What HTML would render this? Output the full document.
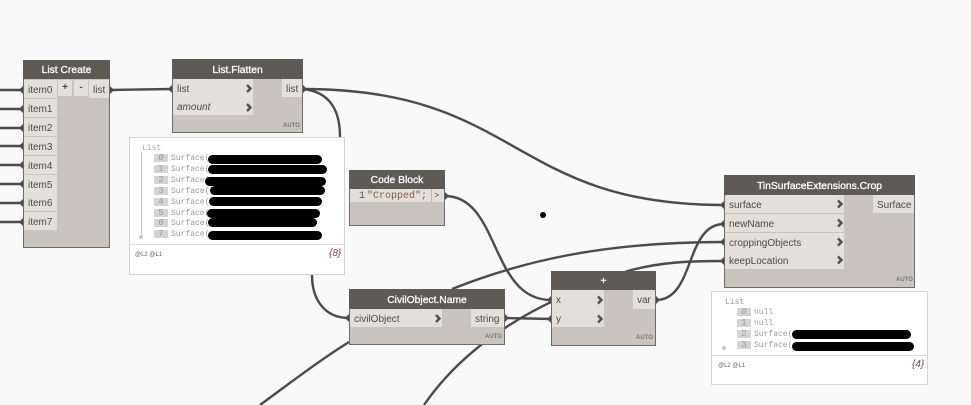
<!DOCTYPE html>
<html><head><meta charset="utf-8"><style>
html,body{margin:0;padding:0;background:#f9f9f9;width:971px;height:405px;overflow:hidden}
body{position:relative;font-family:"Liberation Sans",sans-serif}
svg{position:absolute;left:0;top:0}
.n{position:absolute;box-sizing:border-box;background:#c9c5be;border:1px solid #6f6c67}
.h{position:absolute;box-sizing:border-box;background:#5e5b57;color:#fff;font-weight:normal;font-size:10.3px;-webkit-text-stroke:.3px #fff;text-align:center}
.p{position:absolute;box-sizing:border-box;background:#e3e0da;color:#4a4a4a;font-size:10px;line-height:22px;padding-left:4px;white-space:nowrap}
.a{position:absolute;font-size:6px;font-weight:bold;color:#7a7873;line-height:8px}
.v{position:absolute;box-sizing:border-box;background:#fff;border:1px solid #d4d4d4}
.t{position:absolute;font-family:"Liberation Mono",monospace;font-size:8px;line-height:17px;color:#9a9a9a;white-space:nowrap}
.i{position:absolute;background:#d4d4d4;color:#9a9a9a;font-family:"Liberation Mono",monospace;font-size:9px;line-height:8px;height:8px;width:14px;text-align:center}
.b{position:absolute;background:#000;height:9px;border-radius:5px}
.l{position:absolute;font-size:6px;line-height:10px;color:#666}
.c{position:absolute;font-size:10px;line-height:13px;font-style:italic;color:#7a4a4a}
</style></head><body>
<svg width="971" height="405" fill="none" stroke="#4b4b4b" stroke-width="2.4">
<path d="M0 90H23M0 109H23M0 128H23M0 146H23M0 165H23M0 184H23M0 203H23M0 222H23"/>
<path d="M110 90L172 89"/>
<path d="M303 89C520 89 510 205 724 205"/>
<path d="M303 89C330 92 340 110 340 137"/>
<path d="M312 275C312 300 325 318 349 318"/>
<path d="M445 196C500 196 490 300 551 300"/>
<path d="M260 405C290 383 320 360 349 342"/>
<path d="M452 289C520 262 600 242 724 242"/>
<path d="M424 405C455 360 510 310 628 271C660 262 690 261 724 261"/>
<path d="M505 318L551 319"/>
<path d="M656 300C695 300 685 224 724 224"/>
</svg>

<!-- List Create -->
<div class="n" style="left:23px;top:60px;width:87px;height:188px"></div>
<div class="h" style="left:23px;top:60px;width:87px;height:19px;line-height:22px">List Create</div>
<div class="p" style="left:24px;top:80px;width:33px;height:18px">item0</div>
<div class="p" style="left:24px;top:99px;width:33px;height:18px">item1</div>
<div class="p" style="left:24px;top:118px;width:33px;height:18px">item2</div>
<div class="p" style="left:24px;top:137px;width:33px;height:18px">item3</div>
<div class="p" style="left:24px;top:156px;width:33px;height:18px">item4</div>
<div class="p" style="left:24px;top:175px;width:33px;height:18px">item5</div>
<div class="p" style="left:24px;top:193px;width:33px;height:18px">item6</div>
<div class="p" style="left:24px;top:212px;width:33px;height:18px">item7</div>
<div class="p" style="left:58px;top:80px;width:14px;height:16px;line-height:15px;padding:0;text-align:center;font-weight:bold">+</div>
<div class="p" style="left:74px;top:80px;width:14px;height:16px;line-height:15px;padding:0;text-align:center;font-weight:bold">-</div>
<div class="p" style="left:89px;top:80px;width:20px;height:18px;padding-left:4px">list</div>

<!-- List.Flatten -->
<div class="n" style="left:172px;top:59px;width:131px;height:74px"></div>
<div class="h" style="left:172px;top:59px;width:131px;height:20px;line-height:24px">List.Flatten</div>
<div class="p" style="left:173px;top:79px;width:80px;height:18px">list</div>
<div class="p" style="left:173px;top:97px;width:80px;height:18px;font-style:italic">amount</div>
<div class="p" style="left:282px;top:79px;width:20px;height:18px;padding-left:4px">list</div>
<div class="a" style="left:283px;top:122px">AUTO</div>

<!-- Preview 1 -->
<div class="v" style="left:129px;top:137px;width:216px;height:138px"></div>
<div style="position:absolute;left:130px;top:244px;width:214px;height:1px;background:#dcdcdc"></div>
<div style="position:absolute;left:141px;top:152px;width:1px;height:85px;background:#c8c8c8"></div>
<div style="position:absolute;left:139px;top:235px;width:4px;height:4px;border-radius:2px;background:#c8c8c8"></div>
<div class="t" style="left:142px;top:140px;color:#b9a79a">List</div>
<div class="i" style="left:154px;top:154px;font-style:italic">0</div><div class="t" style="left:171px;top:150px">Surface(</div><div class="b" style="left:208px;top:155px;width:114px"></div>
<div class="i" style="left:154px;top:165px">1</div><div class="t" style="left:171px;top:161px">Surface(</div><div class="b" style="left:208px;top:165px;width:119px"></div>
<div class="i" style="left:154px;top:176px">2</div><div class="t" style="left:171px;top:172px">Surface(</div><div class="b" style="left:205px;top:177px;width:121px"></div>
<div class="i" style="left:154px;top:187px">3</div><div class="t" style="left:171px;top:183px">Surface(</div><div class="b" style="left:210px;top:186px;width:115px"></div>
<div class="i" style="left:154px;top:198px">4</div><div class="t" style="left:171px;top:194px">Surface(</div><div class="b" style="left:209px;top:197px;width:113px"></div>
<div class="i" style="left:154px;top:209px">5</div><div class="t" style="left:171px;top:205px">Surface(</div><div class="b" style="left:207px;top:209px;width:113px"></div>
<div class="i" style="left:154px;top:219px;font-style:italic">6</div><div class="t" style="left:171px;top:215px">Surface(</div><div class="b" style="left:208px;top:218px;width:109px"></div>
<div class="i" style="left:154px;top:230px">7</div><div class="t" style="left:171px;top:226px">Surface(</div><div class="b" style="left:208px;top:231px;width:114px"></div>
<div class="l" style="left:135px;top:250px">@L2 @L1</div>
<div class="c" style="left:329px;top:247px">{8}</div>

<!-- Code Block -->
<div class="n" style="left:349px;top:170px;width:96px;height:56px"></div>
<div class="h" style="left:349px;top:170px;width:96px;height:19px;line-height:22px">Code Block</div>
<div class="p" style="left:350px;top:189px;width:94px;height:13px"></div>
<div style="position:absolute;left:355px;top:189px;width:10px;height:13px;font:10px/15px 'Liberation Mono',monospace;color:#555;text-align:right">1</div>
<div style="position:absolute;left:367px;top:189px;font:10px/15px 'Liberation Mono',monospace;color:#8a5a3a;white-space:nowrap">"Cropped";</div>
<div style="position:absolute;left:431px;top:189px;width:1px;height:13px;background:#bdb9b2"></div>
<div style="position:absolute;left:434px;top:189px;font:9px/15px 'Liberation Mono',monospace;color:#555">&gt;</div>

<!-- CivilObject.Name -->
<div class="n" style="left:349px;top:289px;width:156px;height:56px"></div>
<div class="h" style="left:349px;top:289px;width:156px;height:20px;line-height:24px">CivilObject.Name</div>
<div class="p" style="left:350px;top:309px;width:92px;height:18px">civilObject</div>
<div class="p" style="left:471px;top:309px;width:33px;height:18px">string</div>
<div class="a" style="left:485px;top:333px">AUTO</div>

<!-- + -->
<div class="n" style="left:551px;top:271px;width:105px;height:75px"></div>
<div class="h" style="left:551px;top:271px;width:105px;height:19px;line-height:22px">+</div>
<div class="p" style="left:552px;top:290px;width:52px;height:19px">x</div>
<div class="p" style="left:552px;top:309px;width:52px;height:18px">y</div>
<div class="p" style="left:633px;top:290px;width:22px;height:19px">var</div>
<div class="a" style="left:636px;top:334px">AUTO</div>

<!-- Crop -->
<div class="n" style="left:724px;top:175px;width:191px;height:113px"></div>
<div class="h" style="left:724px;top:175px;width:191px;height:20px;line-height:24px">TinSurfaceExtensions.Crop</div>
<div class="p" style="left:725px;top:195px;width:119px;height:18px">surface</div>
<div class="p" style="left:725px;top:214px;width:119px;height:18px">newName</div>
<div class="p" style="left:725px;top:233px;width:119px;height:18px">croppingObjects</div>
<div class="p" style="left:725px;top:251px;width:119px;height:18px">keepLocation</div>
<div class="p" style="left:873px;top:195px;width:41px;height:18px">Surface</div>
<div class="a" style="left:896px;top:276px">AUTO</div>

<!-- Preview 2 -->
<div class="v" style="left:711px;top:291px;width:217px;height:94px"></div>
<div style="position:absolute;left:712px;top:355px;width:215px;height:1px;background:#dcdcdc"></div>
<div style="position:absolute;left:722px;top:346px;width:4px;height:4px;border-radius:2px;background:#c8c8c8"></div>
<div class="t" style="left:725px;top:294px;color:#999">List</div>
<div class="i" style="left:737px;top:308px;font-style:italic">0</div><div class="t" style="left:754px;top:304px">null</div>
<div class="i" style="left:737px;top:319px">1</div><div class="t" style="left:754px;top:315px">null</div>
<div class="i" style="left:737px;top:330px">2</div><div class="t" style="left:754px;top:326px">Surface(</div><div class="b" style="left:792px;top:330px;width:119px"></div>
<div class="i" style="left:737px;top:341px">3</div><div class="t" style="left:754px;top:337px">Surface(</div><div class="b" style="left:792px;top:342px;width:122px"></div>
<div class="l" style="left:718px;top:361px">@L2 @L1</div>
<div class="c" style="left:912px;top:358px">{4}</div>

<svg width="971" height="405" fill="none">
<g stroke="#4f4f4f" stroke-width="2.4">
<path d="M247 85L250.500 88.500L247 92M247 104L250.500 107.500L247 111"/>
<path d="M436 315L439.500 318.500L436 322"/>
<path d="M598 296.500L601.500 300L598 303.500M598 315.500L601.500 319L598 322.500"/>
<path d="M838 200.500L841.500 204L838 207.500M838 219.500L841.500 223L838 226.500M838 238.500L841.500 242L838 245.500M838 256.500L841.500 260L838 263.500"/>
</g>
<g fill="#4b4b4b">
<path d="M19 90l4-4v8zM19 109l4-4v8zM19 128l4-4v8zM19 146l4-4v8zM19 165l4-4v8zM19 184l4-4v8zM19 203l4-4v8zM19 222l4-4v8z"/>
<path d="M168 89l4-4v8zM345 318l4-4v8zM547 300l4-4v8zM547 319l4-4v8zM720 205l4-4v8zM720 224l4-4v8zM720 242l4-4v8zM720 261l4-4v8z"/>
<path d="M110 86l4 4l-4 4zM303 85l4 4l-4 4zM445 192l4 4l-4 4zM505 314l4 4l-4 4zM656 296l4 4l-4 4z"/>
</g>
<circle cx="543" cy="215" r="3" fill="#000"/>
</svg>
</body></html>
